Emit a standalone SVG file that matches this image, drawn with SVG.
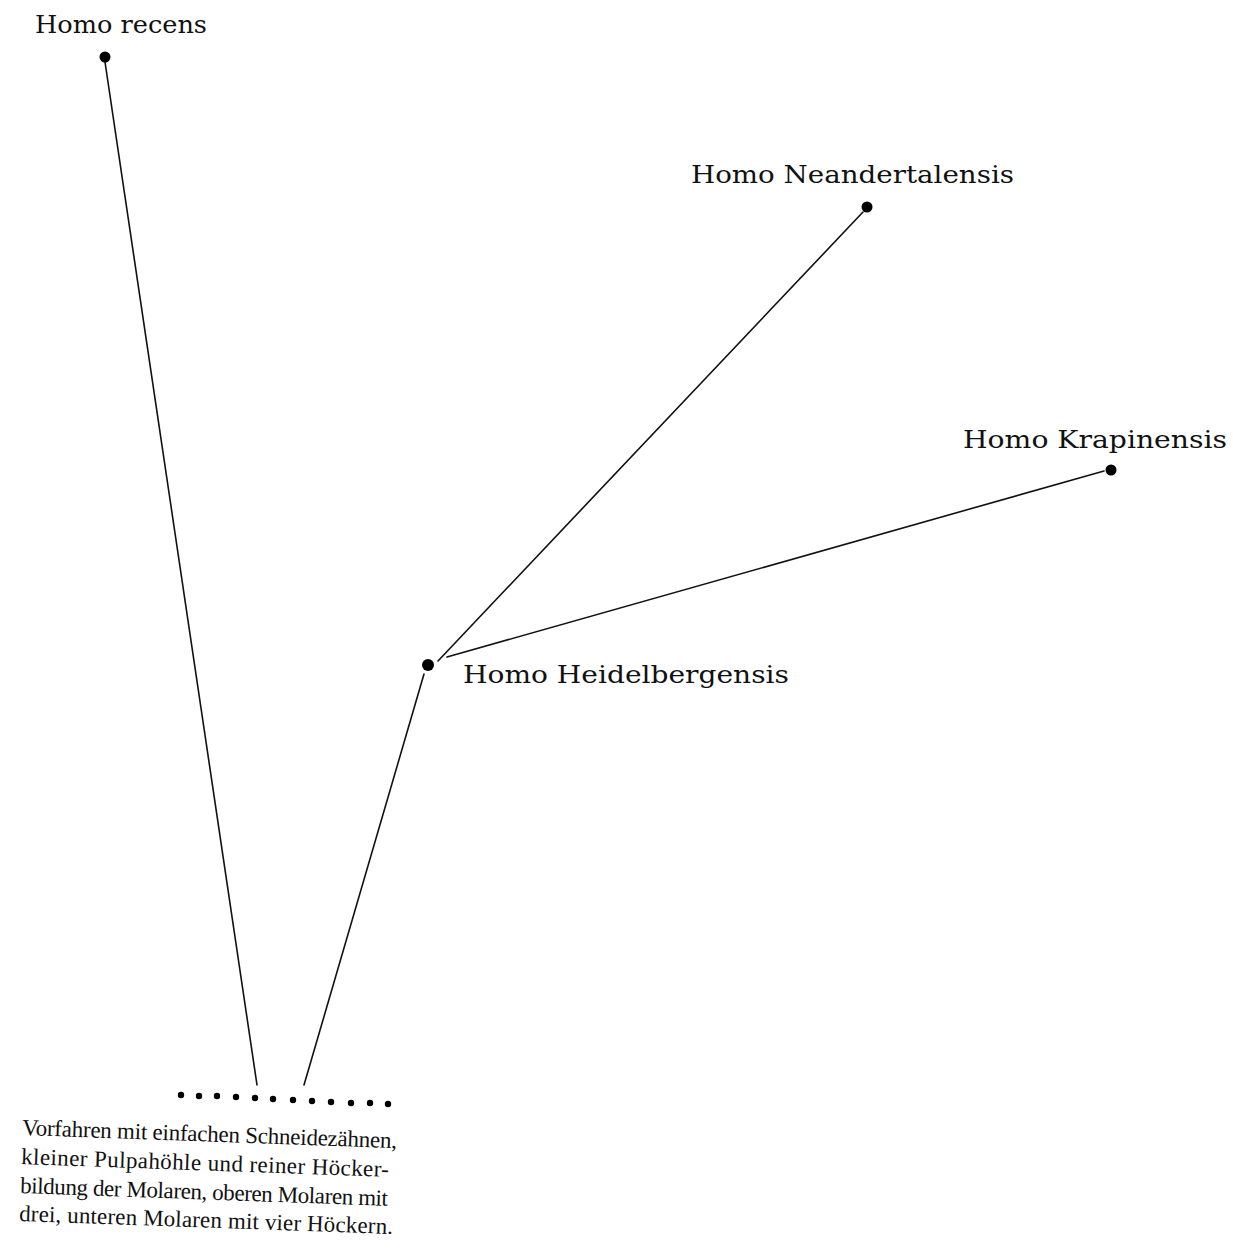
<svg xmlns="http://www.w3.org/2000/svg" width="1233" height="1258" viewBox="0 0 1233 1258">
  <style>
    .lbl { font-family: "DejaVu Serif", "Liberation Serif", serif; font-size: 24px; fill: #111; }
    .txt { font-family: "Liberation Serif", "DejaVu Serif", serif; font-size: 23px; fill: #111; }
    .edge { stroke: #111; stroke-width: 1.6; fill: none; stroke-linecap: round; }
    .dot { fill: #000; }
  </style>
  <rect width="1233" height="1258" fill="#fff"/>
  <g id="connectors">
    <line class="edge" x1="105" y1="62" x2="257" y2="1085"/>
    <line class="edge" x1="304" y1="1085" x2="424" y2="674"/>
    <line class="edge" x1="438" y1="661" x2="863" y2="212"/>
    <line class="edge" x1="447" y1="657" x2="1104" y2="471"/>
  </g>
  <g id="node-recens">
    <circle class="dot" cx="105" cy="57" r="5.5"/>
    <text class="lbl" x="35" y="33" textLength="172" lengthAdjust="spacingAndGlyphs">Homo recens</text>
  </g>
  <g id="node-neandertalensis">
    <circle class="dot" cx="867" cy="207" r="5.5"/>
    <text class="lbl" x="691" y="183" textLength="323" lengthAdjust="spacingAndGlyphs">Homo Neandertalensis</text>
  </g>
  <g id="node-krapinensis">
    <circle class="dot" cx="1111" cy="470" r="5.5"/>
    <text class="lbl" x="963" y="448" textLength="264" lengthAdjust="spacingAndGlyphs">Homo Krapinensis</text>
  </g>
  <g id="node-heidelbergensis">
    <circle class="dot" cx="428" cy="665" r="6"/>
    <text class="lbl" x="463" y="683" textLength="326" lengthAdjust="spacingAndGlyphs">Homo Heidelbergensis</text>
  </g>
  <g id="node-vorfahren">
    <g class="dot">
      <circle cx="181" cy="1095" r="3.2"/>
      <circle cx="199" cy="1096" r="3.2"/>
      <circle cx="217" cy="1096" r="3.2"/>
      <circle cx="236" cy="1097" r="3.2"/>
      <circle cx="255" cy="1098" r="3.2"/>
      <circle cx="273" cy="1099" r="3.2"/>
      <circle cx="293" cy="1100" r="3.2"/>
      <circle cx="312" cy="1101" r="3.2"/>
      <circle cx="331" cy="1102" r="3.2"/>
      <circle cx="351" cy="1103" r="3.2"/>
      <circle cx="370" cy="1103" r="3.2"/>
      <circle cx="388" cy="1104" r="3.2"/>
    </g>
    <g transform="rotate(2 22 1135)">
      <text class="txt" x="22" y="1135" textLength="375" lengthAdjust="spacing">Vorfahren mit einfachen Schneidezähnen,</text>
      <text class="txt" x="22" y="1164" textLength="368" lengthAdjust="spacing">kleiner Pulpahöhle und reiner Höcker-</text>
      <text class="txt" x="22" y="1193" textLength="368" lengthAdjust="spacing">bildung der Molaren, oberen Molaren mit</text>
      <text class="txt" x="22" y="1221" textLength="374" lengthAdjust="spacing">drei, unteren Molaren mit vier Höckern.</text>
    </g>
  </g>
</svg>
